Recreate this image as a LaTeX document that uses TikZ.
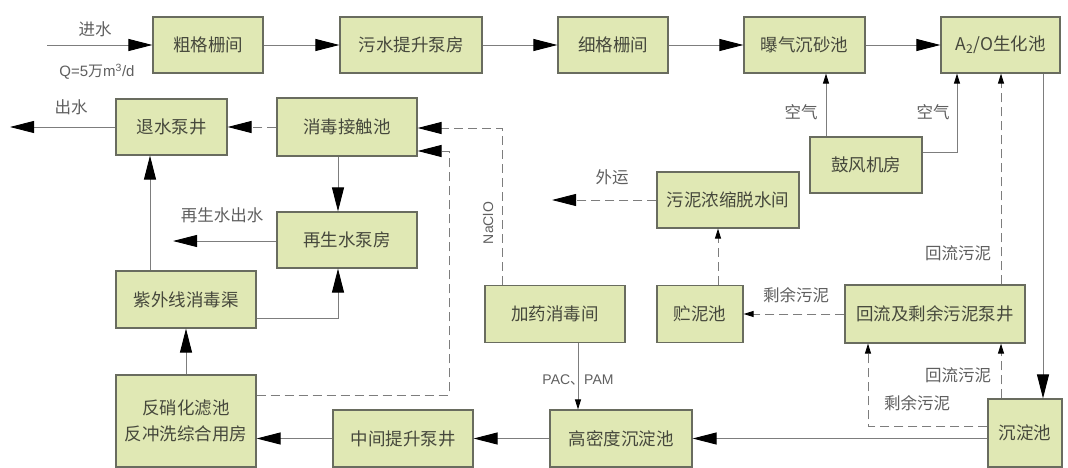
\documentclass[tikz,border=0pt]{standalone}
\usepackage{fontspec}
\newfontfamily\cjk{Noto Sans CJK SC}
\setmainfont{Liberation Sans}
\usetikzlibrary{arrows.meta,calc}
\definecolor{boxfill}{RGB}{224,232,180}
\definecolor{boxline}{RGB}{105,108,95}
\definecolor{linec}{RGB}{125,125,125}
\definecolor{labc}{RGB}{95,95,95}
\definecolor{boxtext}{RGB}{70,72,60}
\begin{document}
\begin{tikzpicture}[x=1pt,y=-1pt,
  box/.style={draw=boxline,fill=boxfill,line width=1.2pt,inner sep=0pt,
    font=\cjk\fontsize{17.5}{26}\selectfont,text=boxtext,align=center},
  flow/.style={draw=linec,line width=0.9pt},
  dflow/.style={flow,dash pattern=on 9pt off 5pt},
  big/.style={-{Triangle[length=24pt,width=12pt,color=black]}},
  small/.style={-{Triangle[length=10pt,width=6pt,color=black]}},
  lab/.style={font=\cjk\fontsize{16.5}{18}\selectfont,text=labc,inner sep=1pt}]
\useasboundingbox (0,0) rectangle (1068,468);
\fill[white] (0,0) rectangle (1068,468);

% boxes
\node[box,minimum width=110pt,minimum height=56pt] (cgs) at (208,45) {粗格栅间};
\node[box,minimum width=142pt,minimum height=56pt] (wts) at (411,45) {污水提升泵房};
\node[box,minimum width=110pt,minimum height=56pt] (xgs) at (613,45) {细格栅间};
\node[box,minimum width=121pt,minimum height=56pt] (pq) at (804.5,45) {曝气沉砂池};
\node[box,minimum width=119pt,minimum height=56pt] (a2o) at (1000.5,45) {A\textsubscript{2}/O生化池};
\node[box,minimum width=111pt,minimum height=56pt] (tsb) at (171.5,127) {退水泵井};
\node[box,minimum width=140pt,minimum height=58pt] (xdc) at (347,127) {消毒接触池};
\node[box,minimum width=140pt,minimum height=56pt] (zss) at (347,240) {再生水泵房};
\node[box,minimum width=140pt,minimum height=57pt] (zwx) at (186,299.5) {紫外线消毒渠};
\node[box,minimum width=140pt,minimum height=92pt] (fxh) at (186,421) {反硝化滤池\\反冲洗综合用房};
\node[box,minimum width=140pt,minimum height=57pt] (zjt) at (403,438.5) {中间提升泵井};
\node[box,minimum width=142pt,minimum height=57pt] (gmd) at (621,438.5) {高密度沉淀池};
\node[box,minimum width=140pt,minimum height=57pt] (jy) at (555,314) {加药消毒间};
\node[box,minimum width=86pt,minimum height=57pt] (zn) at (700,314) {贮泥池};
\node[box,minimum width=180pt,minimum height=58pt] (hl) at (935,314) {回流及剩余污泥泵井};
\node[box,minimum width=142pt,minimum height=56pt] (wnn) at (728,200) {污泥浓缩脱水间};
\node[box,minimum width=112pt,minimum height=56pt] (gfj) at (866,165) {鼓风机房};
\node[box,minimum width=74pt,minimum height=68pt] (cdc) at (1025,433) {沉淀池};

% helper coordinates
\coordinate (in) at (47,45);
\coordinate (out) at (10,127);
\coordinate (ax1) at (826,0);
\coordinate (ax2) at (957,152);
\coordinate (vA) at (1043,0);
\coordinate (vR) at (1001,0);
\coordinate (sy) at (868,426);
\coordinate (vz) at (718,0);
\coordinate (wy) at (552,200);
\coordinate (vj) at (578,0);
\coordinate (na) at (502,128);
\coordinate (d1) at (449,395);
\coordinate (d2) at (449,151);
\coordinate (vu) at (150,0);
\coordinate (vz2) at (338,318);
\coordinate (zo) at (173,241);

% main line
\draw[flow,big] (in) -- (cgs);
\draw[flow,big] (cgs) -- (wts);
\draw[flow,big] (wts) -- (xgs);
\draw[flow,big] (xgs) -- (pq);
\draw[flow,big] (pq) -- (a2o);
\node[lab] at (95,29) {进水};
\node[lab,font=\fontsize{15}{17}\selectfont] at (97,72) {Q=5{\cjk 万}m\textsuperscript{3}/d};

% air
\draw[flow,small] (gfj.north -| ax1) -- (pq.south -| ax1);
\node[lab] at (801,112) {空气};
\draw[flow,small] (gfj.east |- ax2) -| (a2o.south -| ax2);
\node[lab] at (933,112) {空气};

% A2O -> sedimentation
\draw[flow,big] (a2o.south -| vA) -- (cdc.north -| vA);

% sludge
\draw[dflow,small] (hl.north -| vR) -- (a2o.south -| vR);
\node[lab] at (958,253) {回流污泥};
\draw[dflow,small] (cdc.north -| vR) -- (hl.south -| vR);
\node[lab] at (958,375) {回流污泥};
\draw[dflow,small] (cdc.west |- sy) -| (hl.south -| sy);
\node[lab] at (917,403) {剩余污泥};
\draw[dflow,small] (hl.west) -- (zn.east);
\node[lab] at (796,295) {剩余污泥};
\draw[dflow,small] (zn.north -| vz) -- (wnn.south -| vz);
\draw[dflow,big] (wnn.west) -- (wy);
\node[lab] at (612,177) {外运};

% advanced treatment
\draw[flow,big] (cdc.west |- gmd) -- (gmd.east);
\draw[flow,small] (jy.south -| vj) -- (gmd.north -| vj);
\node[lab,font=\fontsize{14}{16}\selectfont] at (578,380) {PAC{\cjk 、}PAM};
\draw[dflow,big] (jy.north -| na) |- (xdc.east |- na);
\node[lab,rotate=90,font=\fontsize{14}{16}\selectfont] at (488,223) {NaClO};
\draw[dflow,big] (fxh.east |- d1) -- (d1) -- (d2) -- (xdc.east |- d2);
\draw[flow,big] (gmd) -- (zjt);
\draw[flow,big] (zjt) -- (fxh.east |- zjt);
\draw[flow,big] (fxh) -- (zwx);
\draw[flow,big] (zwx.north -| vu) -- (tsb.south -| vu);
\draw[flow,big] (zwx.east |- vz2) -| (zss.south -| vz2);
\draw[flow,big] (xdc.south -| vz2) -- (zss.north -| vz2);
\draw[flow,big] (zss.west |- zo) -- (zo);
\node[lab] at (222,215) {再生水出水};
\draw[dflow,big] (xdc) -- (tsb);
\draw[flow,big] (tsb) -- (out);
\node[lab] at (71,107) {出水};
\end{tikzpicture}
\end{document}
